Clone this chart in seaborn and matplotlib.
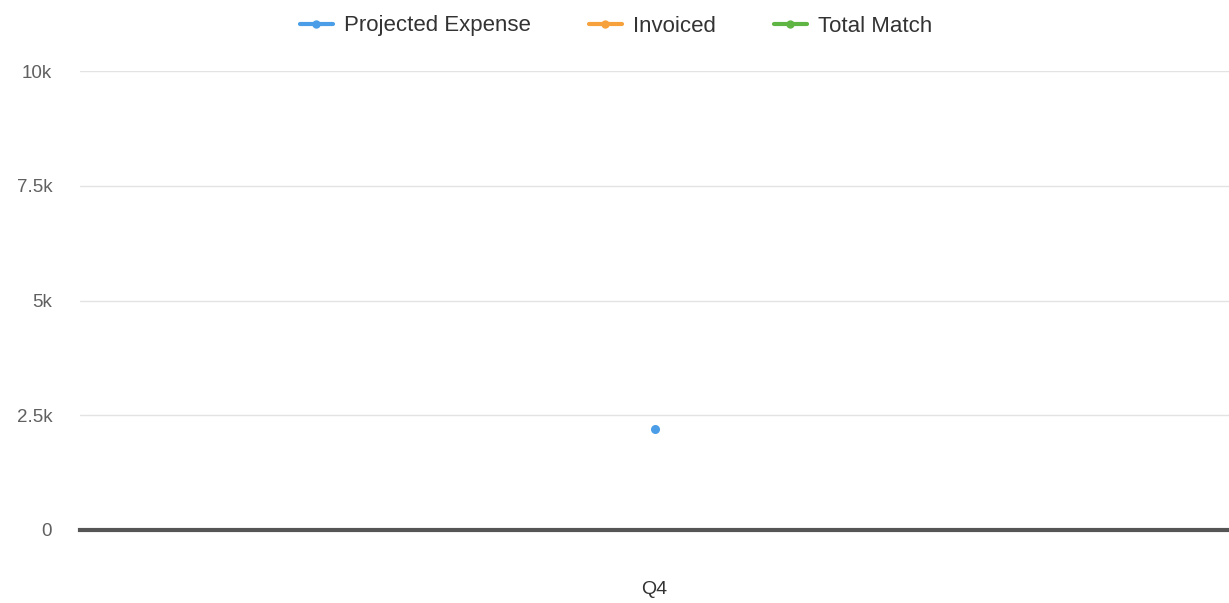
import numpy as np
import pandas as pd
import seaborn as sns
import matplotlib.pyplot as plt
from matplotlib.lines import Line2D
from matplotlib.ticker import FuncFormatter

# Data
quarters = ["Q4"]
projected_expense = [2200]
invoiced = [np.nan]
total_match = [np.nan]

series_names = ["Projected Expense", "Invoiced", "Total Match"]
colors = ["#4a9de6", "#f7a13c", "#5fb543"]

df = pd.DataFrame({
    "quarter": quarters * 3,
    "series": [series_names[0]] * len(quarters) + [series_names[1]] * len(quarters) + [series_names[2]] * len(quarters),
    "value": projected_expense + invoiced + total_match,
})

sns.set_style("white")
plt.rcParams["font.family"] = ["Liberation Sans", "DejaVu Sans"]

fig = plt.figure(figsize=(12.29, 6.03), dpi=100)
ax = fig.add_axes([80 / 1229, 73 / 603, 1 - 80 / 1229, (530 - 71) / 603])

sns.lineplot(data=df, x="quarter", y="value", hue="series", hue_order=series_names,
             palette=colors, marker="o", markersize=6.5, markeredgewidth=0,
             legend=False, ax=ax)

ax.set_ylim(0, 10000)
ax.set_xlim(-0.5, 0.5)
ax.set_yticks([0, 2500, 5000, 7500, 10000])
ax.yaxis.set_major_formatter(FuncFormatter(lambda v, p: "0" if v == 0 else f"{v / 1000:g}k"))
ax.grid(axis="y", color="#e3e3e3", linewidth=1)
ax.set_axisbelow(True)
for s in ["top", "right", "left"]:
    ax.spines[s].set_visible(False)
ax.spines["bottom"].set_color("#555555")
ax.spines["bottom"].set_linewidth(3)
ax.tick_params(axis="y", length=0, pad=20, labelsize=13.5, labelcolor="#606060")
ax.tick_params(axis="x", length=0, pad=37, labelsize=14, labelcolor="#333333")
ax.set_xlabel("")
ax.set_ylabel("")

handles = [Line2D([0], [0], color=c, marker="o", markersize=6, linewidth=3, markeredgewidth=0)
           for c in colors]
fig.legend(handles, series_names, loc="center", bbox_to_anchor=(616 / 1229, 1 - 26 / 603), ncol=3,
           frameon=False, fontsize=16, handlelength=1.5, handletextpad=0.5, columnspacing=2.6,
           labelcolor="#333333")

fig.savefig("out.png", dpi=100)
